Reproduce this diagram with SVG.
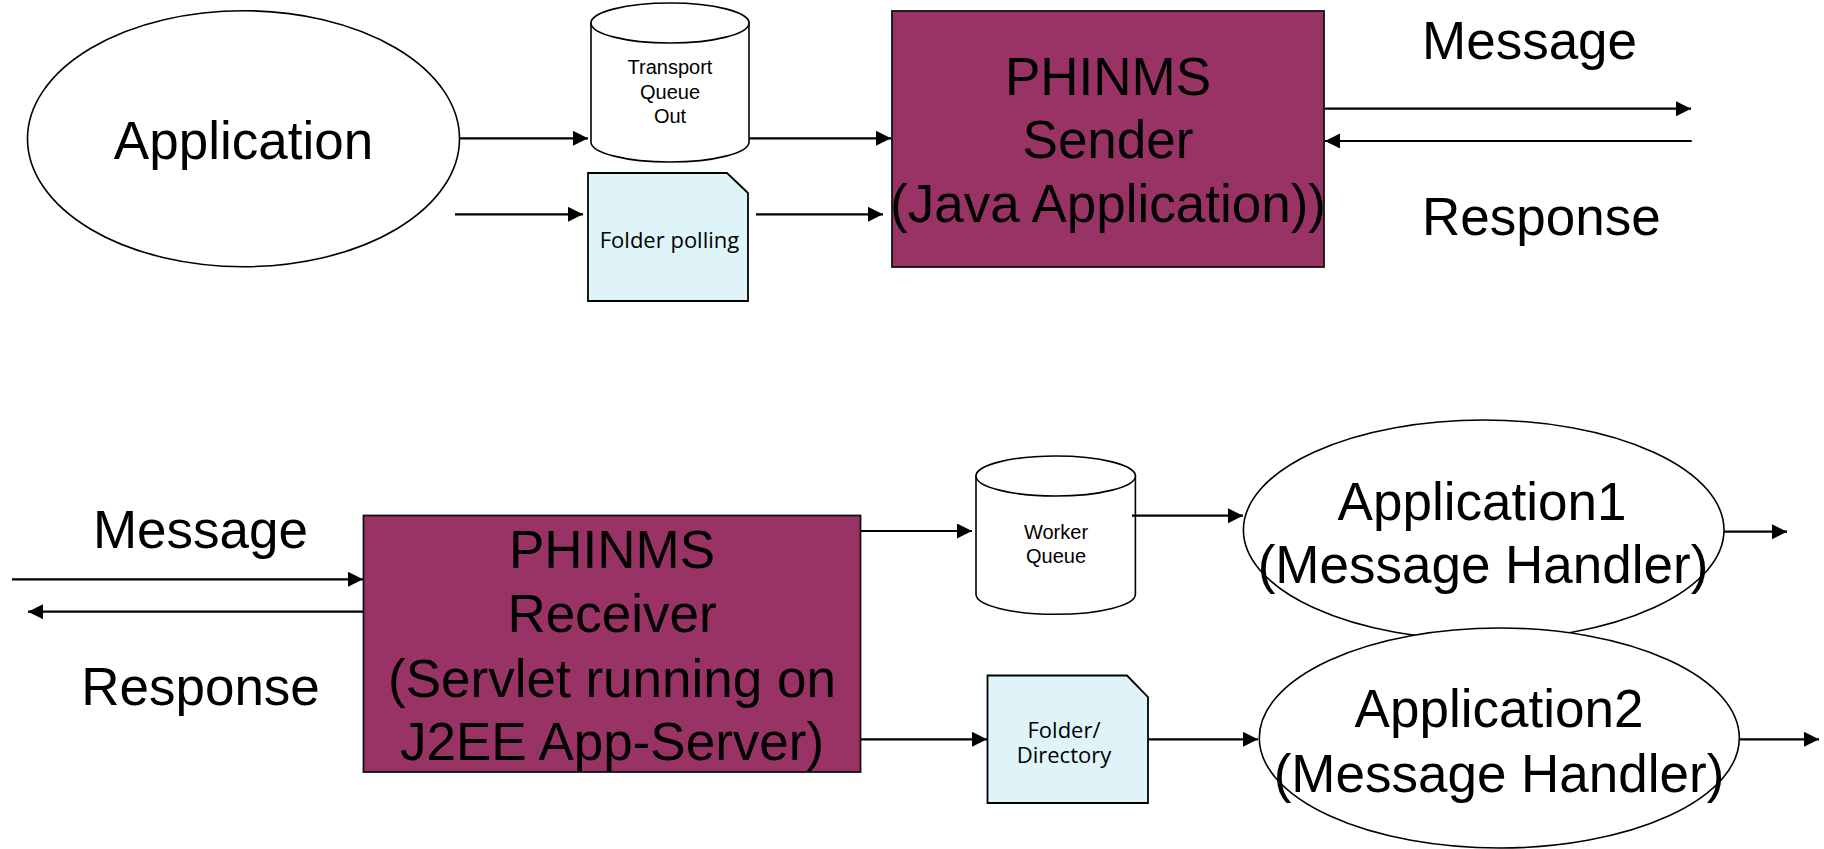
<svg xmlns="http://www.w3.org/2000/svg" width="1824" height="849" viewBox="0 0 1824 849">
<style>
.bg{fill:#ffffff}
.ell{fill:#ffffff;stroke:#000;stroke-width:1.6}
.cyl{fill:#ffffff;stroke:#000;stroke-width:1.6}
.folder{fill:#def4f9;stroke:#000;stroke-width:1.8}
.phin{fill:#993366;stroke:#111;stroke-width:1.8}
.big{font-family:"Liberation Sans",Arial,sans-serif;font-size:53px;fill:#000;text-anchor:middle}
.lbl{font-family:"Liberation Sans",Arial,sans-serif;font-size:53px;fill:#000}
.small{font-family:"Liberation Sans",Arial,sans-serif;font-size:20px;fill:#000;text-anchor:middle}
.fold{font-family:"Open Sans","DejaVu Sans",sans-serif;font-size:22px;fill:#000;text-anchor:middle}
.conn line{stroke:#000;stroke-width:2.2;fill:none;marker-end:url(#ah)}
</style>
<defs>
<marker id="ah" markerUnits="userSpaceOnUse" markerWidth="16" markerHeight="16" refX="15" refY="7.5" orient="auto" viewBox="0 0 16 16">
<path d="M0,0 L15,7.5 L0,15 Z" fill="#000"/>
</marker>
</defs>
<rect class="bg" x="0" y="0" width="1824" height="849"/>

<g id="application">
<ellipse class="ell" cx="243.5" cy="138.7" rx="216" ry="128"/>
<text class="big" x="243.5" y="159">Application</text>
</g>

<g id="transport-queue-out">
<path class="cyl" d="M591,23 V142 A79,20 0 0 0 749,142 V23 Z"/>
<ellipse class="cyl" cx="670" cy="23" rx="79" ry="20"/>
<text class="small" x="670" y="74">Transport</text>
<text class="small" x="670" y="99">Queue</text>
<text class="small" x="670" y="123">Out</text>
</g>

<g id="folder-polling">
<polygon class="folder" points="588,173 727,173 748,193 748,301 588,301"/>
<text class="fold" x="669.5" y="248">Folder polling</text>
</g>

<g id="phinms-sender">
<rect class="phin" x="892" y="11" width="432" height="256"/>
<text class="big" x="1108" y="95">PHINMS</text>
<text class="big" x="1108" y="158.3">Sender</text>
<text class="big" x="1108" y="221.7">(Java Application))</text>
</g>

<g id="sender-labels">
<text class="lbl" x="1422" y="59.3">Message</text>
<text class="lbl" x="1422" y="235">Response</text>
</g>

<g id="receiver-labels">
<text class="big" x="200.5" y="548.3">Message</text>
<text class="big" x="200.5" y="705.3">Response</text>
</g>

<g id="phinms-receiver">
<rect class="phin" x="363.5" y="515.5" width="497" height="256.5"/>
<text class="big" x="612" y="567.7">PHINMS</text>
<text class="big" x="612" y="632.3">Receiver</text>
<text class="big" x="612" y="696.7">(Servlet running on</text>
<text class="big" x="612" y="760">J2EE App-Server)</text>
</g>

<g id="worker-queue">
<path class="cyl" d="M976,476 V594.3 A79.7,20 0 0 0 1135.4,594.3 V476 Z"/>
<ellipse class="cyl" cx="1055.7" cy="476" rx="79.7" ry="20"/>
<text class="small" x="1056" y="539">Worker</text>
<text class="small" x="1056" y="563">Queue</text>
</g>

<g id="folder-directory">
<polygon class="folder" points="987.5,675.5 1127,675.5 1148,697 1148,803 987.5,803"/>
<text class="fold" x="1064" y="738.3">Folder/</text>
<text class="fold" x="1064" y="763.3">Directory</text>
</g>

<g id="application1">
<ellipse class="ell" cx="1483.7" cy="530" rx="240.3" ry="110"/>
<text class="big" x="1482" y="520">Application1</text>
<text class="big" x="1483" y="583.3">(Message Handler)</text>
</g>

<g id="application2">
<ellipse class="ell" cx="1499.3" cy="738" rx="240" ry="110"/>
<text class="big" x="1499" y="727.3">Application2</text>
<text class="big" x="1499" y="791.7">(Message Handler)</text>
</g>

<g id="connectors" class="conn">
<line x1="460" y1="138.3" x2="588" y2="138.3"/>
<line x1="455" y1="214.3" x2="583" y2="214.3"/>
<line x1="749" y1="138.3" x2="891" y2="138.3"/>
<line x1="756" y1="214.3" x2="883" y2="214.3"/>
<line x1="1325" y1="108.7" x2="1691" y2="108.7"/>
<line x1="1691.7" y1="141" x2="1325" y2="141"/>
<line x1="12" y1="579.3" x2="363" y2="579.3"/>
<line x1="363" y1="611.7" x2="28" y2="611.7"/>
<line x1="861" y1="531" x2="972" y2="531"/>
<line x1="861" y1="739.3" x2="987" y2="739.3"/>
<line x1="1132" y1="515.7" x2="1243" y2="515.7"/>
<line x1="1148" y1="739.3" x2="1258" y2="739.3"/>
<line x1="1724" y1="531.7" x2="1787" y2="531.7"/>
<line x1="1739.5" y1="739.3" x2="1819" y2="739.3"/>
</g>
</svg>
